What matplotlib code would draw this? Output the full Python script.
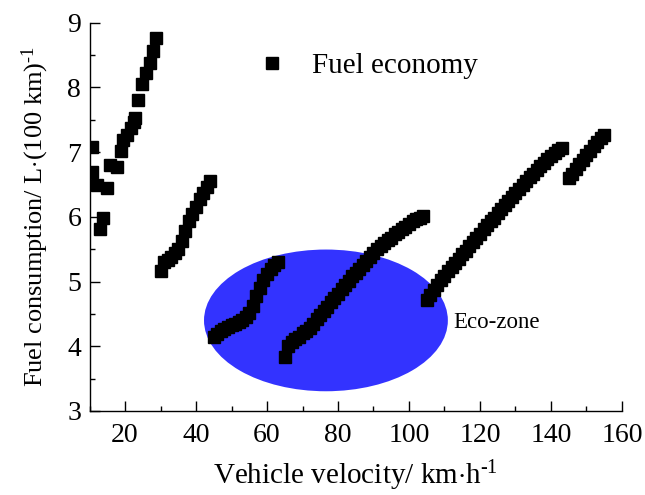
import matplotlib
matplotlib.use("Agg")
import matplotlib.pyplot as plt
from matplotlib.patches import Ellipse
from matplotlib.ticker import MultipleLocator

plt.rcParams['font.family'] = ['Liberation Serif', 'DejaVu Serif']
plt.rcParams['mathtext.fontset'] = 'custom'
plt.rcParams['mathtext.rm'] = 'Liberation Serif'
plt.rcParams['mathtext.it'] = 'Liberation Serif:italic'

# Segment 1 (low speed, scattered)
v1 = [10.6, 10.8, 12.0, 12.9, 13.9, 14.8, 15.8, 17.7, 18.9, 19.5, 20.5, 21.7,
      22.5, 22.8, 23.75, 24.7, 25.8, 26.9, 27.8, 28.75]
f1 = [7.08, 6.70, 6.49, 5.82, 5.98, 6.44, 6.80, 6.77, 7.01, 7.19, 7.26, 7.38,
      7.47, 7.52, 7.81, 8.06, 8.22, 8.38, 8.56, 8.76]
# Segment 2
v2 = [30, 31, 32, 33, 34, 35, 36, 37, 38, 39, 40, 41, 42, 43, 44]
f2 = [5.17, 5.30, 5.34, 5.38, 5.44, 5.50, 5.62, 5.78, 5.93, 6.05, 6.16, 6.27,
      6.37, 6.46, 6.55]
# Segment 3
v3 = [45, 46, 47, 48, 49, 50, 51, 52, 53, 54, 55, 56, 57, 58, 59, 60, 61, 62, 63]
f3 = [4.14, 4.19, 4.23, 4.27, 4.30, 4.33, 4.35, 4.38, 4.40, 4.45, 4.51, 4.63,
      4.77, 4.90, 5.03, 5.12, 5.19, 5.25, 5.30]
# Segment 4
v4 = [65, 66, 67, 68, 69, 70, 71, 72, 73, 74, 75, 76, 77, 78, 79, 80, 81, 82,
      83, 84, 85, 86, 87, 88, 89, 90, 91, 92, 93, 94, 95, 96, 97, 98, 99, 100,
      101, 102, 103, 104]
f4 = [3.83, 4.00, 4.06, 4.11, 4.15, 4.20, 4.24, 4.29, 4.34, 4.42, 4.49, 4.55,
      4.61, 4.68, 4.74, 4.81, 4.88, 4.95, 5.01, 5.08, 5.14, 5.20, 5.26, 5.32,
      5.38, 5.44, 5.50, 5.55, 5.60, 5.64, 5.68, 5.73, 5.77, 5.81, 5.85, 5.89,
      5.93, 5.96, 5.99, 6.01]
# Segment 5
v5 = [105, 106, 107, 108, 109, 110, 111, 112, 113, 114, 115, 116, 117, 118,
      119, 120, 121, 122, 123, 124, 125, 126, 127, 128, 129, 130, 131, 132,
      133, 134, 135, 136, 137, 138, 139, 140, 141, 142, 143]
f5 = [4.72, 4.80, 4.87, 4.94, 5.02, 5.09, 5.16, 5.22, 5.29, 5.35, 5.42, 5.48,
      5.55, 5.61, 5.68, 5.74, 5.81, 5.87, 5.93, 5.99, 6.06, 6.12, 6.18, 6.24,
      6.30, 6.37, 6.43, 6.49, 6.55, 6.61, 6.67, 6.72, 6.78, 6.83, 6.89, 6.94,
      6.99, 7.03, 7.07]
# Segment 6
v6 = [145, 146, 147, 148, 149, 150, 151, 152, 153, 154, 155]
f6 = [6.60, 6.67, 6.74, 6.81, 6.88, 6.95, 7.02, 7.09, 7.16, 7.22, 7.27]

velocity = v1 + v2 + v3 + v4 + v5 + v6
fuel = f1 + f2 + f3 + f4 + f5 + f6

# Eco-zone ellipse (data coordinates)
eco_center = (76.6, 4.40)
eco_width = 68.7
eco_height = 2.19

fig = plt.figure(figsize=(6.45, 4.95), dpi=100)
ax = fig.add_axes([0.1388, 0.1697, 0.8255, 0.7844])

ax.add_patch(Ellipse(eco_center, eco_width, eco_height, facecolor='#3333FF',
                     edgecolor='none', zorder=1))
ax.plot(velocity, fuel, linestyle='none', marker='s', ms=8.5, color='black',
        mec='black', label='Fuel economy', zorder=3)
ax.text(112.4, 4.36, 'Eco-zone', fontsize=16.5, va='center', ha='left')

ax.set_xlim(10, 160)
ax.set_ylim(3, 9)
ax.xaxis.set_minor_locator(MultipleLocator(10))
ax.yaxis.set_major_locator(MultipleLocator(1))
ax.yaxis.set_minor_locator(MultipleLocator(0.5))
ax.set_xticks([20, 40, 60, 80, 100, 120, 140, 160])
ax.tick_params(which='both', direction='in', width=1.0, labelsize=20)
ax.tick_params(which='major', length=7)
ax.tick_params(which='minor', length=3.5)
ax.tick_params(axis='x', pad=9)
ax.tick_params(axis='y', pad=6)
for s in ['top', 'right']:
    ax.spines[s].set_visible(False)
for s in ['left', 'bottom']:
    ax.spines[s].set_linewidth(1.0)

ax.set_xlabel(r'Vehicle velocity/ km$\cdot$h$^{\mathregular{\text{-}1}}$', fontsize=21, labelpad=7)
ax.set_ylabel(r'Fuel consumption/ L$\cdot$(100 km)$^{\mathregular{\text{-}1}}$', fontsize=19, labelpad=12)

ax.legend(loc='center left', bbox_to_anchor=(0.315, 0.888), frameon=False,
          borderaxespad=0, borderpad=0, handlelength=1, handletextpad=0.88,
          fontsize=21, numpoints=1)

fig.savefig('out.png', dpi=100)
